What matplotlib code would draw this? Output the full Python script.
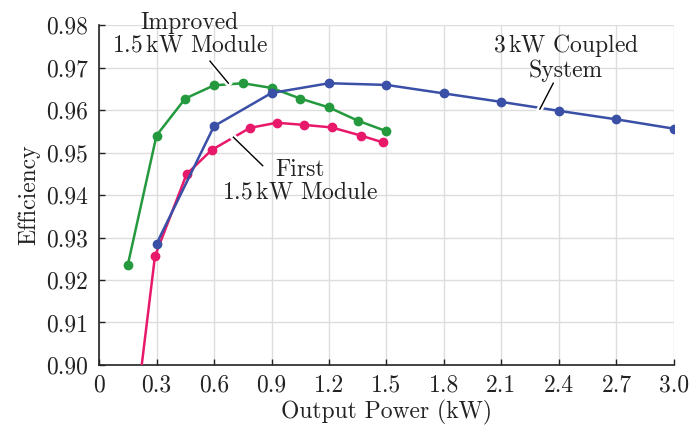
import matplotlib
matplotlib.use("Agg")
import matplotlib.pyplot as plt
import matplotlib.patheffects as pe

plt.rcParams['font.family'] = 'serif'
plt.rcParams['font.serif'] = ['cmr10']
plt.rcParams['mathtext.fontset'] = 'cm'
plt.rcParams['axes.formatter.use_mathtext'] = True

# efficiency curves
improved_p = [0.15, 0.30, 0.45, 0.60, 0.75, 0.90, 1.05, 1.20, 1.35, 1.50]
improved_eff = [0.9235, 0.9540, 0.9627, 0.9658, 0.9663, 0.9652, 0.9627, 0.9606, 0.9575, 0.9550]

first_p = [0.15, 0.292, 0.457, 0.588, 0.788, 0.927, 1.069, 1.214, 1.365, 1.48]
first_eff = [0.873, 0.9256, 0.9449, 0.9506, 0.9558, 0.9570, 0.9565, 0.9559, 0.9540, 0.9524]

coupled_p = [0.30, 0.60, 0.90, 1.20, 1.50, 1.80, 2.10, 2.40, 2.70, 3.00]
coupled_eff = [0.9285, 0.9562, 0.9640, 0.9663, 0.9659, 0.9639, 0.9619, 0.9598, 0.9578, 0.9556]

x_ticks = [0, 0.3, 0.6, 0.9, 1.2, 1.5, 1.8, 2.1, 2.4, 2.7, 3.0]
x_labels = ['0', '0.3', '0.6', '0.9', '1.2', '1.5', '1.8', '2.1', '2.4', '2.7', '3.0']
y_ticks = [0.90, 0.91, 0.92, 0.93, 0.94, 0.95, 0.96, 0.97, 0.98]

# labels: text, text position, leader start, leader end
labels = [
    ('Improved\n1.5$\\,$kW Module', (0.475, 0.9779), (0.579, 0.9715), (0.675, 0.9663)),
    ('First\n1.5$\\,$kW Module', (1.049, 0.9432), (0.854, 0.9469), (0.701, 0.9536)),
    ('3$\\,$kW Coupled\nSystem', (2.436, 0.9725), (2.370, 0.9663), (2.300, 0.9602)),
]

GREEN = '#24993d'
PINK = '#e8196a'
BLUE = '#3a4fa6'
INK = '#222222'

fig = plt.figure(figsize=(6.89, 4.26), dpi=100)
ax = fig.add_axes([0.1437, 0.1432, 0.9782 - 0.1437, 0.9413 - 0.1432])

ax.plot(improved_p, improved_eff, '-o', color=GREEN, lw=1.8, ms=6, zorder=3)
ax.plot(first_p, first_eff, '-o', color=PINK, lw=1.8, ms=6, zorder=3)
ax.plot(coupled_p, coupled_eff, '-o', color=BLUE, lw=1.8, ms=6, zorder=4)

for txt, tpos, p0, p1 in labels:
    ax.text(tpos[0], tpos[1], txt, ha='center', va='center', multialignment='center',
            fontsize=17, color=INK, linespacing=1.0, zorder=6)
    ax.plot([p0[0], p1[0]], [p0[1], p1[1]], color='black', lw=1.0, zorder=5,
            path_effects=[pe.Stroke(linewidth=4.5, foreground='white'), pe.Normal()])

ax.set_xlim(0, 3.0)
ax.set_ylim(0.90, 0.98)
ax.set_xticks(x_ticks)
ax.set_xticklabels(x_labels)
ax.set_yticks(y_ticks)
ax.set_yticklabels([f'{v:.2f}' for v in y_ticks])
ax.tick_params(direction='in', length=4, width=1, labelsize=17, colors=INK)
ax.tick_params(axis='x', pad=7)
ax.tick_params(axis='y', pad=8)

ax.grid(True, color='#dddddd', lw=1.0)
ax.set_axisbelow(True)
for s in ['top', 'right']:
    ax.spines[s].set_visible(False)
for s in ['left', 'bottom']:
    ax.spines[s].set_color(INK)
    ax.spines[s].set_linewidth(1.2)

ax.set_xlabel('Output Power (kW)', fontsize=17, color=INK, labelpad=2)
ax.set_ylabel('Efficiency', fontsize=17, color=INK, labelpad=4)

fig.savefig('out.png', dpi=100)
